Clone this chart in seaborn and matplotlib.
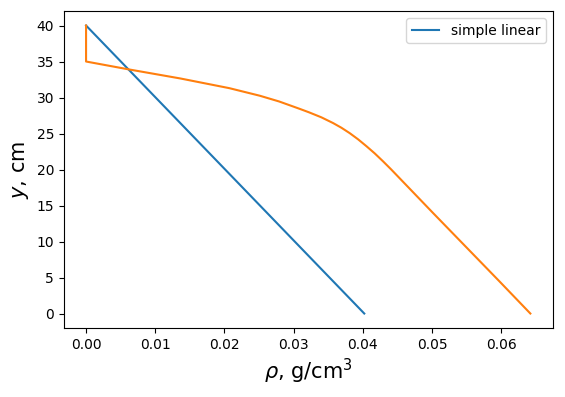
import numpy as np
import pandas as pd
import matplotlib
matplotlib.use("Agg")
import matplotlib.pyplot as plt
import seaborn as sns

# Simple linear profile
lin_rho = [0.0, 0.0402]
lin_y = [40.0, 0.0]

# Second profile
prof_rho = [0.0, 0.0, 0.0062, 0.0136, 0.0207, 0.0251, 0.0279, 0.0308, 0.0322,
            0.0340, 0.0357, 0.0369, 0.0381, 0.0393, 0.0405, 0.0417, 0.0429,
            0.0441, 0.0453, 0.0501, 0.0549, 0.0597, 0.0642]
prof_y = [40.0, 35.0, 33.9, 32.65, 31.3, 30.25, 29.45, 28.45, 27.95,
          27.25, 26.45, 25.8, 25.05, 24.2, 23.25, 22.25, 21.15,
          20.0, 18.8, 14.0, 9.25, 4.5, 0.0]

lin_df = pd.DataFrame({"rho": lin_rho, "y": lin_y})
prof_df = pd.DataFrame({"rho": prof_rho, "y": prof_y})

fig, ax = plt.subplots(figsize=(5.65, 3.97), dpi=100)
fig.subplots_adjust(left=0.113, right=0.978, top=0.972, bottom=0.174)

sns.lineplot(data=lin_df, x="rho", y="y", sort=False, estimator=None, ax=ax,
             color="#1f77b4", label="simple linear", linewidth=1.5)
sns.lineplot(data=prof_df, x="rho", y="y", sort=False, estimator=None, ax=ax,
             color="#ff7f0e", linewidth=1.5)

ax.set_xlabel(r"$\rho$, g/cm$^3$", fontsize=15)
ax.set_ylabel(r"$y$, cm", fontsize=15)
ax.tick_params(labelsize=10)
ax.set_xticks([0.0, 0.01, 0.02, 0.03, 0.04, 0.05, 0.06])
ax.set_xticklabels(["0.00", "0.01", "0.02", "0.03", "0.04", "0.05", "0.06"])
ax.set_yticks([0, 5, 10, 15, 20, 25, 30, 35, 40])
ax.set_xlim(-0.00321, 0.06741)
ax.set_ylim(-2, 42)
ax.legend(loc="upper right", fontsize=10)

fig.savefig("out.png", dpi=100)
